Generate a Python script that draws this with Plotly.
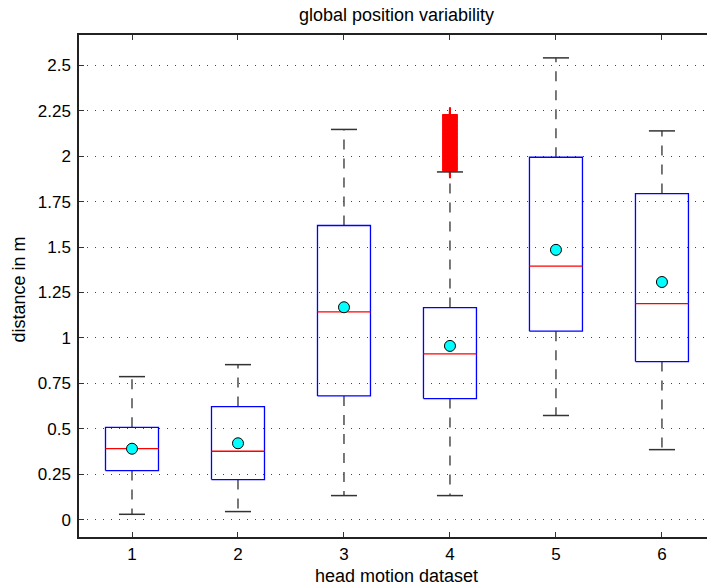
import plotly.graph_objects as go

# ---- data ----
datasets = [1, 2, 3, 4, 5, 6]
tick_labels = ['1', '2', '3', '4', '5', '6']
y_ticks = [0, 0.25, 0.5, 0.75, 1, 1.25, 1.5, 1.75, 2, 2.25, 2.5]
y_tick_labels = ['0', '0.25', '0.5', '0.75', '1', '1.25', '1.5', '1.75', '2', '2.25', '2.5']

lower_whisker = [0.029, 0.044, 0.132, 0.132, 0.573, 0.385]
q1 = [0.270, 0.220, 0.681, 0.666, 1.037, 0.870]
median = [0.391, 0.376, 1.143, 0.912, 1.395, 1.189]
q3 = [0.508, 0.622, 1.619, 1.167, 1.995, 1.795]
upper_whisker = [0.787, 0.853, 2.148, 1.914, 2.542, 2.140]
mean = [0.390, 0.420, 1.169, 0.956, 1.485, 1.308]

outlier_dataset = 4
outliers = [1.921, 1.926, 1.93, 1.935, 1.94, 1.944, 1.948, 1.953, 1.957, 1.962,
            1.966, 1.97, 1.975, 1.98, 1.984, 1.988, 1.992, 1.997, 2.001, 2.006,
            2.01, 2.015, 2.019, 2.023, 2.028, 2.032, 2.036, 2.041, 2.045, 2.05,
            2.054, 2.058, 2.063, 2.068, 2.072, 2.076, 2.08, 2.085, 2.089, 2.094,
            2.098, 2.102, 2.107, 2.111, 2.116, 2.12, 2.124, 2.129, 2.133, 2.138,
            2.142, 2.146, 2.151, 2.155, 2.16, 2.164, 2.168, 2.173, 2.177, 2.182,
            2.186, 2.19, 2.195, 2.2, 2.204, 2.208, 2.212, 2.217, 2.221, 2.225, 2.228]

# ---- style ----
BOX_HALF = 0.25
CAP_HALF = 0.123
FONT = "Liberation Sans, Arial, Helvetica, sans-serif"


def segs(pairs):
    xs, ys = [], []
    for (x0, y0, x1, y1) in pairs:
        xs += [x0, x1, None]
        ys += [y0, y1, None]
    return xs, ys


fig = go.Figure()

# whiskers (dashed)
wx, wy = segs([(c, q3[i], c, upper_whisker[i]) for i, c in enumerate(datasets)] +
              [(c, q1[i], c, lower_whisker[i]) for i, c in enumerate(datasets)])
fig.add_trace(go.Scatter(x=wx, y=wy, mode='lines', hoverinfo='skip',
                         line=dict(color='#4d4d4d', width=1.5, dash='10px,9px')))

# boxes
bx, by = [], []
for i, c in enumerate(datasets):
    bx += [c - BOX_HALF, c + BOX_HALF, c + BOX_HALF, c - BOX_HALF, c - BOX_HALF, None]
    by += [q1[i], q1[i], q3[i], q3[i], q1[i], None]
fig.add_trace(go.Scatter(x=bx, y=by, mode='lines', hoverinfo='skip',
                         line=dict(color='#0000ff', width=1.3)))

# medians
mx, my = segs([(c - BOX_HALF, median[i], c + BOX_HALF, median[i]) for i, c in enumerate(datasets)])
fig.add_trace(go.Scatter(x=mx, y=my, mode='lines', hoverinfo='skip',
                         line=dict(color='#ff0000', width=1.3)))

# outliers
fig.add_trace(go.Scatter(x=[outlier_dataset] * len(outliers), y=outliers, mode='markers',
                         hoverinfo='skip',
                         marker=dict(symbol='cross-thin', size=11,
                                     line=dict(color='#ff0000', width=2))))

# caps
cx, cy = segs([(c - CAP_HALF, upper_whisker[i], c + CAP_HALF, upper_whisker[i]) for i, c in enumerate(datasets)] +
              [(c - CAP_HALF, lower_whisker[i], c + CAP_HALF, lower_whisker[i]) for i, c in enumerate(datasets)])
fig.add_trace(go.Scatter(x=cx, y=cy, mode='lines', hoverinfo='skip',
                         line=dict(color='#333333', width=1.5)))

# means
fig.add_trace(go.Scatter(x=datasets, y=mean, mode='markers', hoverinfo='skip',
                         marker=dict(symbol='circle', size=11, color='#00ffff',
                                     line=dict(color='#000000', width=1))))

fig.update_layout(
    width=707, height=587,
    margin=dict(l=79, r=0, t=35, b=50),
    paper_bgcolor='white', plot_bgcolor='white',
    showlegend=False,
    font=dict(family=FONT, size=17, color='black'),
    xaxis=dict(range=[0.5, 6.425], tickvals=datasets, ticktext=tick_labels,
               ticks='inside', ticklen=5, tickwidth=1, tickcolor='#333333',
               showline=True, linecolor='#222222', linewidth=1.5, mirror='ticks',
               showgrid=False, zeroline=False, ticklabelstandoff=1,
               tickfont=dict(size=17)),
    yaxis=dict(range=[-0.096, 2.668], tickvals=y_ticks, ticktext=y_tick_labels,
               ticks='inside', ticklen=5, tickwidth=1, tickcolor='#333333',
               showline=True, linecolor='#222222', linewidth=1.5, mirror=False,
               showgrid=True, gridcolor='#444444', gridwidth=1, griddash='1px,7px',
               zeroline=False, ticklabelstandoff=3,
               tickfont=dict(size=17)),
    annotations=[
        dict(text='global position variability', x=3.5, xref='x', y=1, yref='paper',
             yanchor='bottom', xanchor='center', yshift=8, showarrow=False,
             font=dict(size=18)),
        dict(text='head motion dataset', x=3.5, xref='x', y=0, yref='paper',
             yanchor='top', xanchor='center', yshift=-27, showarrow=False,
             font=dict(size=18)),
        dict(text='distance in m', x=0, xref='paper', y=0.493, yref='paper',
             xanchor='center', yanchor='middle', xshift=-60, textangle=-90,
             showarrow=False, font=dict(size=18)),
    ],
)

fig.write_html("out.html", config={'displayModeBar': False},
               post_script="document.body.style.margin='0';document.body.style.overflow='hidden';")
